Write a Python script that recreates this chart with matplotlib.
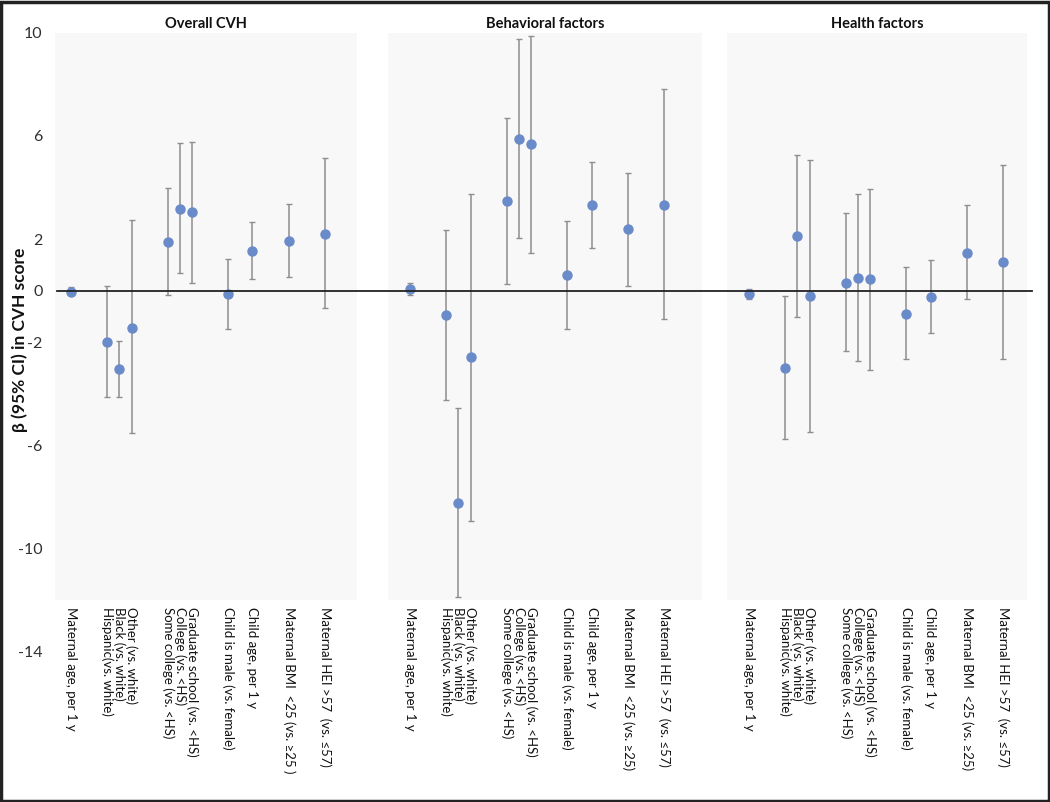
import matplotlib
matplotlib.use("Agg")
import matplotlib.pyplot as plt
from matplotlib.lines import Line2D
from matplotlib.patches import Rectangle
import matplotlib.transforms as mtransforms

plt.rcParams['font.family'] = ['Lato', 'DejaVu Sans']

# ---------------- data ----------------
labels = ["Maternal age, per 1 y", "Hispanic(vs. white)", "Black (vs. white)",
          "Other (vs. white)", "Some college (vs. <HS)", "College (vs. <HS)",
          "Graduate school (vs. <HS)", "Child is male (vs. female)",
          "Child age, per 1 y", "Maternal BMI  <25 (vs. \u226525)",
          "Maternal HEI >57  (vs. \u226457)"]
labels_overall = labels[:9] + ["Maternal BMI  <25 (vs. \u226525 )", labels[10]]

panel_titles = ["Overall CVH", "Behavioral factors", "Health factors"]

overall_est = [-0.04, -1.98, -3.05, -1.43, 1.90, 3.18, 3.05, -0.13, 1.55, 1.94, 2.20]
overall_lo = [-0.10, -4.11, -4.11, -5.53, -0.16, 0.67, 0.31, -1.48, 0.45, 0.54, -0.67]
overall_hi = [0.16, 0.19, -1.96, 2.73, 3.97, 5.74, 5.78, 1.23, 2.65, 3.37, 5.13]

behav_est = [0.05, -0.94, -8.24, -2.58, 3.49, 5.89, 5.69, 0.62, 3.32, 2.38, 3.32]
behav_lo = [-0.16, -4.24, -11.88, -8.91, 0.27, 2.03, 1.47, -1.48, 1.64, 0.19, -1.10]
behav_hi = [0.29, 2.35, -4.53, 3.76, 6.68, 9.77, 9.87, 2.69, 5.00, 4.57, 7.81]

health_est = [-0.13, -3.01, 2.11, -0.21, 0.31, 0.48, 0.44, -0.89, -0.25, 1.46, 1.11]
health_lo = [-0.32, -5.75, -1.01, -5.49, -2.35, -2.74, -3.07, -2.65, -1.65, -0.32, -2.65]
health_hi = [0.05, -0.19, 5.25, 5.08, 3.02, 3.75, 3.95, 0.92, 1.18, 3.32, 4.87]

y_ticks = [-14, -10, -6, -2, 0, 2, 6, 10]

# ---------------- layout ----------------
x_pos = [0, 3, 4, 5, 8, 9, 10, 13, 15, 18, 21]
W, H = 1050, 802
fig = plt.figure(figsize=(W / 100, H / 100), dpi=100)
fig.patch.set_facecolor("white")

y_top_px, y_bot_px = 32.7, 651.9
panels_px = [(55, 302, 71), (388, 314, 410), (727, 300, 749)]  # left, width, x of first point
unit_px = 12.1

series = [(overall_est, overall_lo, overall_hi, labels_overall),
          (behav_est, behav_lo, behav_hi, labels),
          (health_est, health_lo, health_hi, labels)]

marker_col = "#6a8bc9"
err_col = "#8e8e8e"
bg_col = "#f8f8f8"

axes = []
for i, ((left, width, x0), (est, lo, hi, labs)) in enumerate(zip(panels_px, series)):
    ax = fig.add_axes([left / W, 1 - y_bot_px / H, width / W, (y_bot_px - y_top_px) / H])
    ax.set_facecolor("none")
    ax.set_xlim(-(x0 - left) / unit_px, (left + width - x0) / unit_px)
    ax.set_ylim(-14, 10)
    ax.axhspan(-12, 10, color=bg_col, zorder=0, lw=0)
    yerr = [[e - l for e, l in zip(est, lo)], [h - e for e, h in zip(est, hi)]]
    ax.errorbar(x_pos, est, yerr=yerr, fmt='o', color=marker_col, ms=6.5,
                ecolor=err_col, elinewidth=1.1, capsize=2.2, capthick=1.0, zorder=3)
    for xp, lab in zip(x_pos, labs):
        ax.text(xp, -12.25, lab, rotation=270, ha='center', va='top',
                fontsize=9.5, color="#111111")
    for s in ax.spines.values():
        s.set_visible(False)
    ax.set_xticks([])
    if i == 0:
        ax.set_yticks(y_ticks)
        ax.set_yticklabels([str(t) for t in y_ticks], fontsize=11.5, color="#303030")
        ax.tick_params(axis='y', length=0, pad=9)
    else:
        ax.set_yticks([])
    fig.text((left + width / 2) / W, 1 - 24 / H, panel_titles[i], ha='center', va='center',
             fontsize=10.5, fontweight='bold', color="#111111")
    axes.append(ax)

# zero reference line spanning all panels
trans = mtransforms.blended_transform_factory(fig.transFigure, axes[0].transData)
fig.add_artist(Line2D([57 / W, 1032 / W], [0, 0], transform=trans, color="#222222", lw=1.3))

# y-axis label
fig.text(20 / W, 1 - 340 / H, "\u03b2 (95% CI) in CVH score", rotation=90, ha='center', va='center',
         fontsize=12.5, fontweight='bold', color="#111111")

# outer border
fig.add_artist(Rectangle((0.001, 0.001), 0.998, 0.997, transform=fig.transFigure,
                         fill=False, edgecolor="#222222", lw=2.5))

fig.savefig("out.png", dpi=100)
